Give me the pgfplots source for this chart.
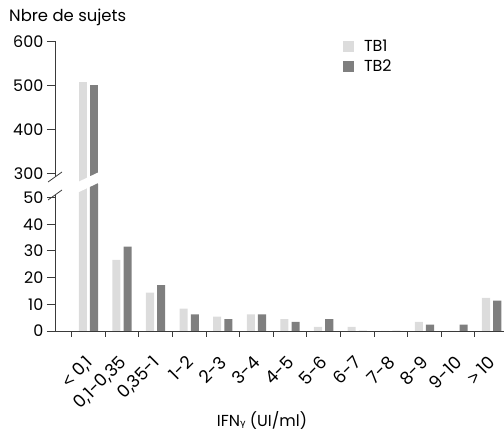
\documentclass[border=0pt]{standalone}
\usepackage{pgfplots}
\pgfplotsset{compat=1.18}
\usepackage{pgfplotstable}
\usepackage{fontspec}
\setmainfont{Poppins}
\newfontfamily\gfont{DejaVu Sans}
\newfontfamily\lfont{Liberation Sans}
\definecolor{tbone}{HTML}{DCDCDC}
\definecolor{tbtwo}{HTML}{7F7F7F}
\definecolor{axc}{HTML}{3A3A3A}

\pgfplotstableread{
x tb1 tb2
0 508 501
1 26.6 31.6
2 14.4 17.2
3 8.4 6.2
4 5.4 4.4
5 6.2 6.2
6 4.4 3.4
7 1.5 4.4
8 1.5 0
9 0 0
10 3.4 2.4
11 0 2.4
12 12.4 11.4
}\datatable

\newcommand{\tfont}{\fontsize{16}{16}\selectfont}

\begin{document}
\begin{tikzpicture}[x=1bp,y=1bp]
\path[use as bounding box] (0,0) rectangle (504,435);

% bottom part of broken axis
\begin{axis}[
  at={(54.8bp,104bp)}, anchor=south west,
  scale only axis, width=453.6bp, height=146.85bp,
  xmin=-1, xmax=12.5, ymin=0, ymax=55,
  axis x line=bottom, axis y line=left,
  axis line style={-},
  y axis line style={draw=none},
  x axis line style={draw=axc, line width=0.8pt},
  ytick={0,10,20,30,40,50},
  tick align=outside,
  major tick length=8bp,
  ytick style={draw=axc, line width=0.8pt},
  xtick={0,...,12},
  xticklabels={{{\lfont<} 0,1},{0,1-0,35},{0,35-1},{1-2},{2-3},{3-4},{4-5},{5-6},{6-7},{7-8},{8-9},{9-10},{{\lfont>} 10}},
  major x tick style={draw=none},
  minor xtick={-0.5,0.5,...,11.5},
  minor x tick style={draw=axc, line width=0.8pt},
  minor tick length=6bp,
  xticklabel shift=7bp,
  x tick label style={xshift=-4bp, yshift=-7bp, rotate=45, anchor=north east, font=\fontsize{17.5}{17.5}\selectfont, inner sep=1bp},
  y tick label style={font=\tfont},
  /pgf/number format/assume math mode=true,
]
\addplot[ybar, bar width=0.24, bar shift=-0.167, fill=tbone, draw=none] table[x=x, y=tb1] {\datatable};
\addplot[ybar, bar width=0.24, bar shift=0.167, fill=tbtwo, draw=none] table[x=x, y=tb2] {\datatable};
\end{axis}

% top part of broken axis
\begin{axis}[
  at={(54.8bp,248.5bp)}, anchor=south west,
  scale only axis, width=453.6bp, height=145.2bp,
  xmin=-1, xmax=12.5, ymin=270, ymax=600,
  axis x line=none, axis y line=left,
  axis line style={-},
  y axis line style={draw=none},
  ytick={300,400,500,600},
  tick align=outside,
  major tick length=8bp,
  ytick style={draw=axc, line width=0.8pt},
  y tick label style={font=\tfont},
  /pgf/number format/assume math mode=true,
  legend style={at={(0.635,1.022)}, anchor=north west, draw=none, fill=none,
    font=\tfont, row sep=2.5bp, inner sep=0pt},
  legend cell align=left,
  legend image code/.code={\path[#1, draw=none] (0bp,-5.5bp) rectangle (11bp,5.5bp); \path (19bp,0bp);},
]
\addplot[ybar, bar width=0.24, bar shift=-0.167, fill=tbone, draw=none, restrict y to domain=200:1000] table[x=x, y=tb1] {\datatable};
\addplot[ybar, bar width=0.24, bar shift=0.167, fill=tbtwo, draw=none, restrict y to domain=200:1000] table[x=x, y=tb2] {\datatable};
\legend{TB1, TB2}
\end{axis}

% break across the tall bars
\fill[white] (75,251.6) -- (100,263.4) -- (100,252.9) -- (75,241.1) -- cycle;

% broken y axis line with slashes
\draw[axc, line width=0.8pt] (55,393.7) -- (55,258);
\draw[axc, line width=0.8pt] (48,253) -- (62,263);
\draw[axc, line width=0.8pt] (55,104) -- (55,240);
\draw[axc, line width=0.8pt] (48,235) -- (62,245);

\node[anchor=base west, font=\fontsize{16.5}{16.5}\selectfont, inner sep=0pt] at (9,413) {Nbre de sujets};
\node[anchor=base, font=\tfont, inner sep=0pt] at (262,8) {IFN{\gfont\fontsize{9.5}{9.5}\selectfont γ} (UI/ml)};
\end{tikzpicture}
\end{document}
